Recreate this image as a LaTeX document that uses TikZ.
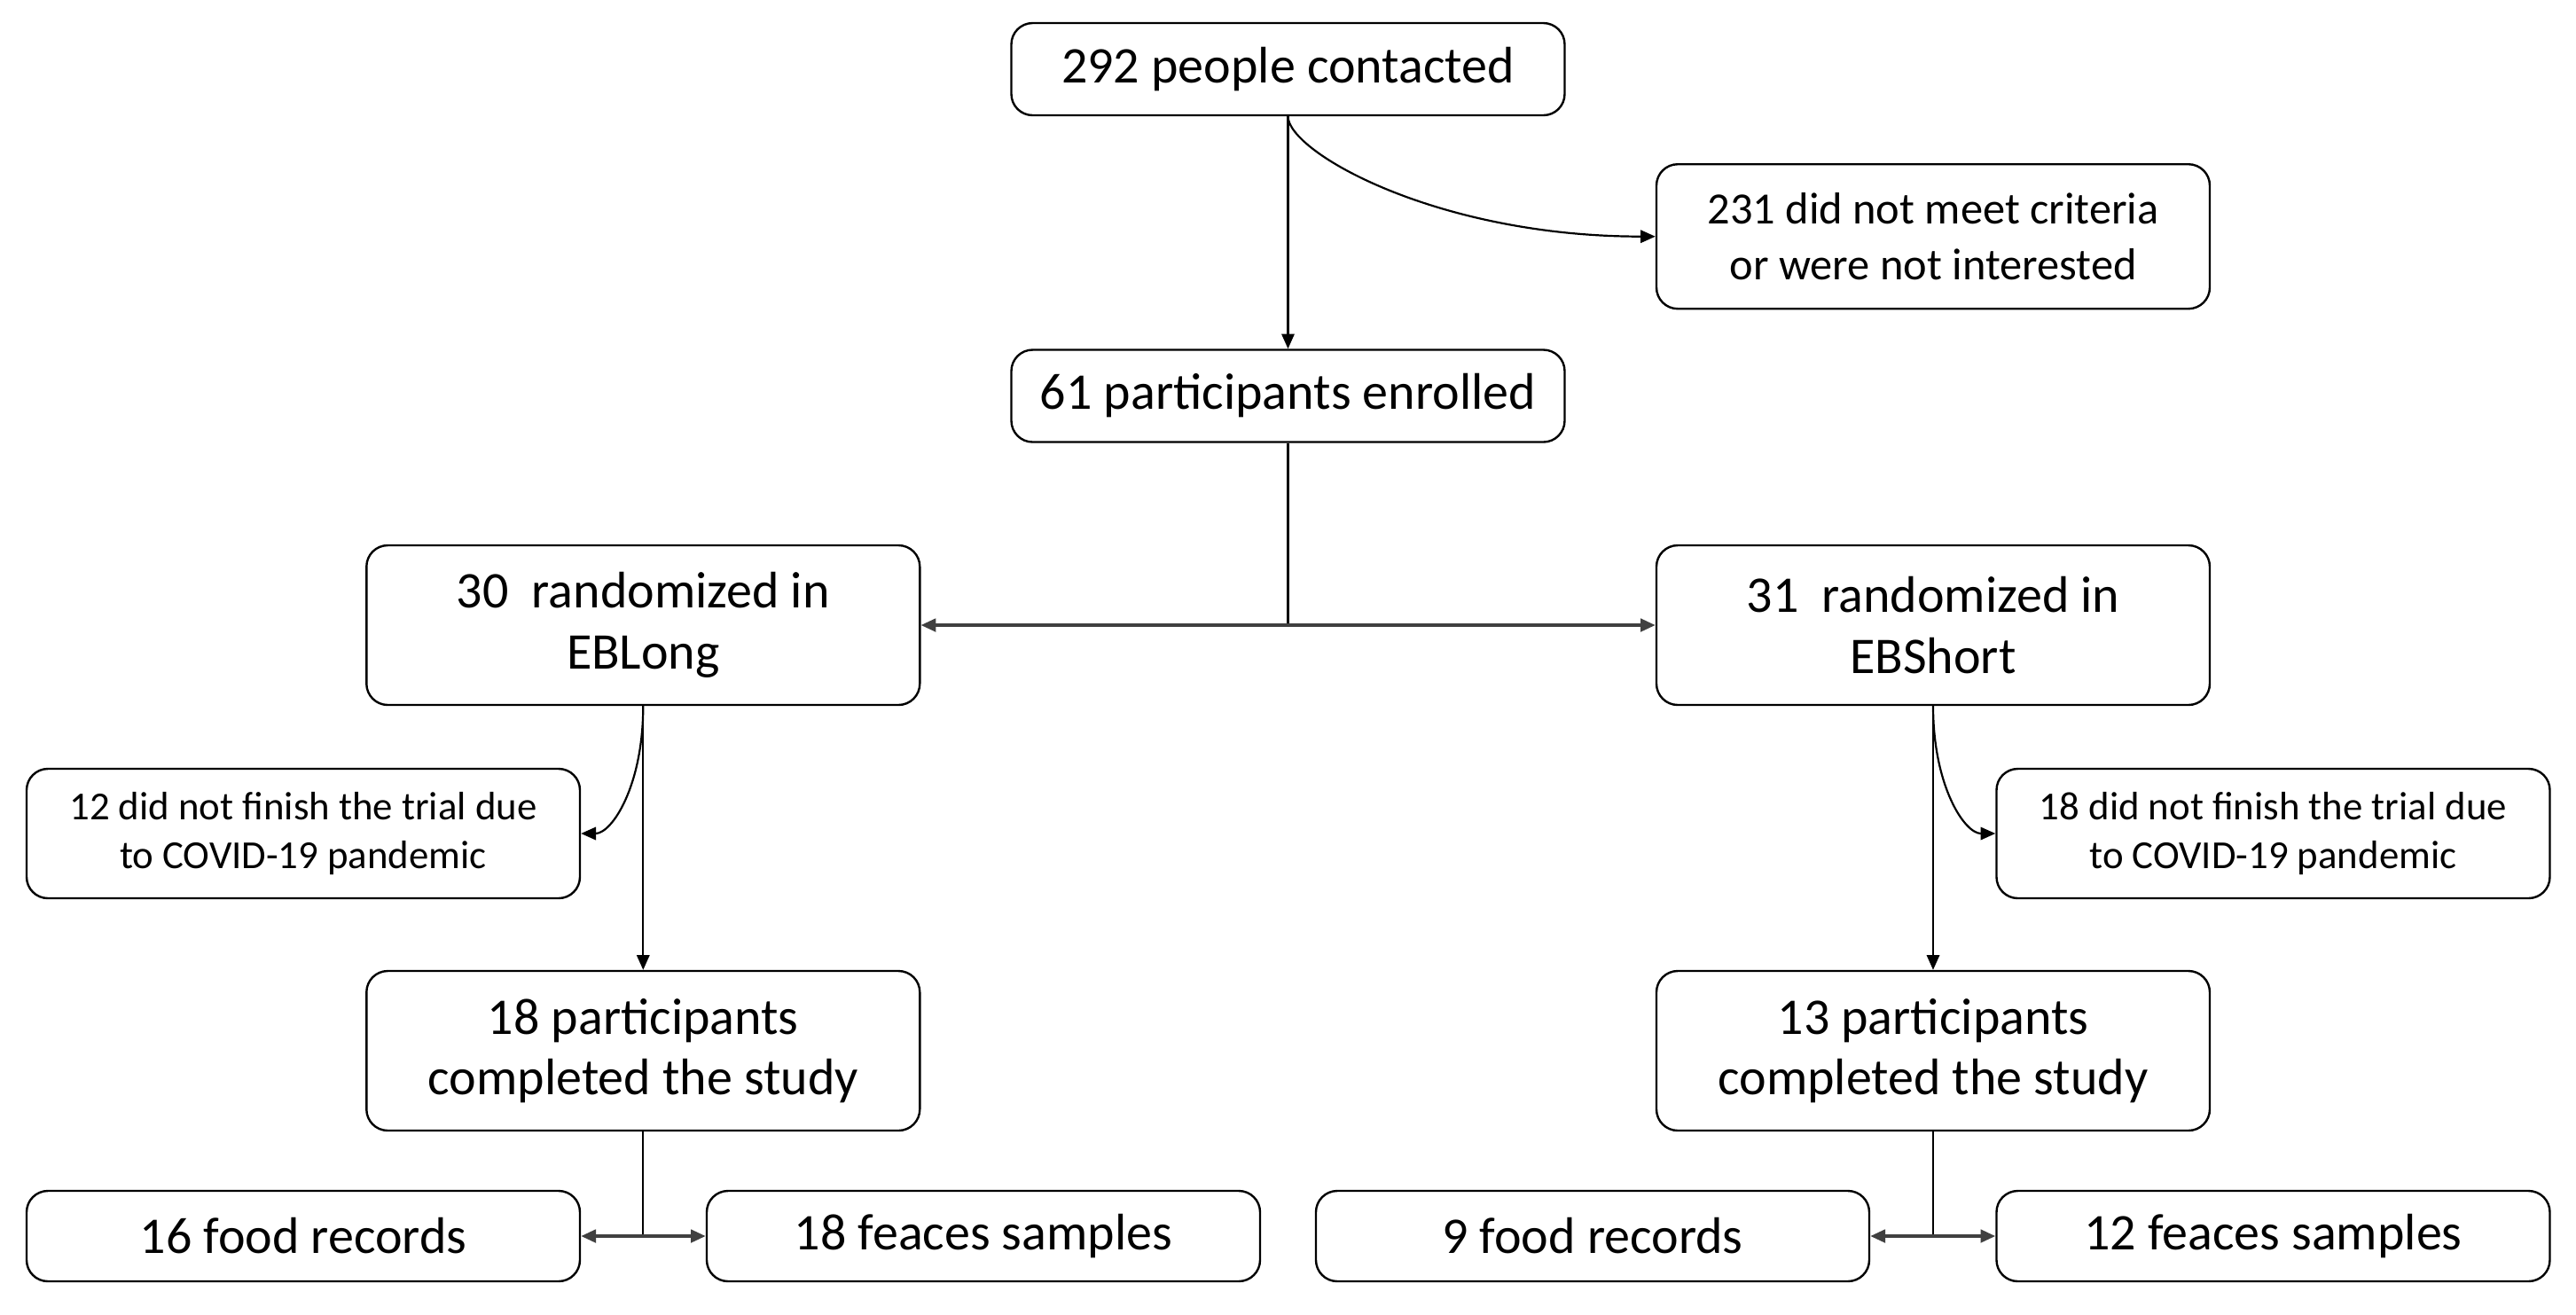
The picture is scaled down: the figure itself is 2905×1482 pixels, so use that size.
\documentclass[tikz,border=0pt]{standalone}
\usepackage{fontspec}
\setmainfont{Carlito}
\usetikzlibrary{arrows.meta}
\begin{document}
\begin{tikzpicture}[x=0.25pt,y=-0.25pt,
  box/.style={draw, line width=0.6pt, rounded corners=6pt, align=center, inner sep=0pt, minimum width=156pt},
  big/.style={box, font=\fontsize{14.5}{17.2}\selectfont},
  mid/.style={box, font=\fontsize{12.6}{15.7}\selectfont},
  small/.style={box, font=\fontsize{11.2}{13.7}\selectfont},
  conn/.style={line width=0.55pt, -{Triangle[length=4.2pt,width=3.6pt]}},
  plain/.style={line width=0.55pt},
  split/.style={line width=0.9pt, draw=black!75, {Triangle[length=4.2pt,width=3.6pt]}-{Triangle[length=4.2pt,width=3.6pt]}}
]
\useasboundingbox (0,0) rectangle (2905,1482);

\node[big, minimum height=26pt] (B1) at (1452.5,78) {292 people contacted};
\node[mid, minimum height=40.75pt] (B2) at (2180,266.7) {231 did not meet criteria\\or were not interested};
\node[big, minimum height=26pt] (B3) at (1452.5,446.5) {61 participants enrolled};
\node[big, minimum height=45pt] (B4) at (725.3,705) {30\ \ randomized in\\EBLong};
\node[big, minimum height=45pt] (B5) at (2180,705) {31\ \ randomized in\\EBShort};
\node[small, minimum height=36.5pt] (B6) at (342,940) {12 did not finish the trial due\\to COVID-19 pandemic};
\node[small, minimum height=36.5pt] (B7) at (2563.5,940) {18 did not finish the trial due\\to COVID-19 pandemic};
\node[big, minimum height=45pt] (B8) at (725.3,1185) {18 participants\\completed the study};
\node[big, minimum height=45pt] (B9) at (2180,1185) {13 participants\\completed the study};
\node[big, minimum height=25.5pt] (L1) at (342,1394) {16 food records};
\node[big, minimum height=25.5pt] (L2) at (1109,1394) {18 feaces samples};
\node[big, minimum height=25.5pt] (R1) at (1796,1394) {9 food records};
\node[big, minimum height=25.5pt] (R2) at (2563.5,1394) {12 feaces samples};

\coordinate (j0) at (B3.south |- B4.east);
\coordinate (j1) at (B8.south |- L1.east);
\coordinate (j2) at (B9.south |- R1.east);

\draw[conn] (B1.south) -- (B3.north);
\draw[conn] (B1.south) .. controls +(0,40) and +(-247,0) .. (B2.west);
\draw[plain] (B3.south) -- (j0);
\draw[split] (B4.east) -- (B5.west);

\draw[conn] (B4.south) -- (B8.north);
\draw[conn] (B4.south) .. controls +(0,90) and +(35,0) .. (B6.east);
\draw[conn] (B5.south) -- (B9.north);
\draw[conn] (B5.south) .. controls +(0,90) and +(-35,0) .. (B7.west);

\draw[plain] (B8.south) -- (j1);
\draw[split] (L1.east) -- (L2.west);
\draw[plain] (B9.south) -- (j2);
\draw[split] (R1.east) -- (R2.west);
\end{tikzpicture}
\end{document}
